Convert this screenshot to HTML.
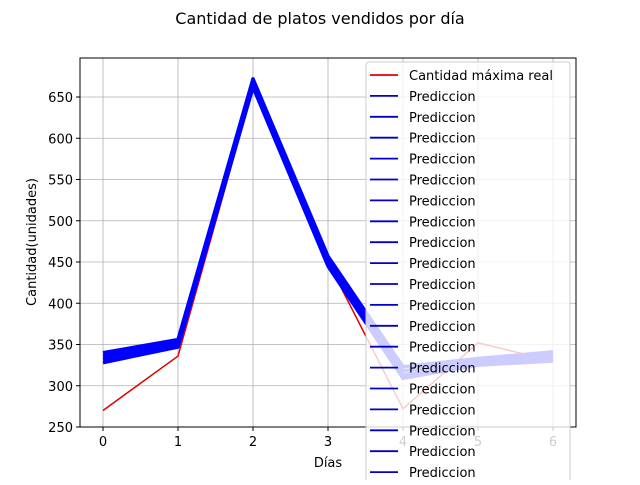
<!DOCTYPE html>
<html><head><meta charset="utf-8"><style>
body{margin:0;background:#fff}
svg text{font-family:"DejaVu Sans","Liberation Sans",sans-serif;fill:#000}
</style></head><body>
<svg id="c" width="640" height="480" xmlns="http://www.w3.org/2000/svg">
<text x="320" y="24" font-size="16" text-anchor="middle">Cantidad de platos vendidos por día</text>
<g id="grid"></g><g id="series"></g>
<rect x="80" y="58" width="496" height="369" fill="none" stroke="#000" stroke-width="1"/>
<g id="axes"></g>
<text x="328" y="467" font-size="13" text-anchor="middle">Días</text>
<text transform="translate(36,242) rotate(-90)" font-size="13" text-anchor="middle">Cantidad(unidades)</text>
<g id="legend"></g>
</svg>
<script>
const days=[0,1,2,3,4,5,6];
const yTicks=[250,300,350,400,450,500,550,600,650];
const real=[270,336,660,450,272,352,330];
const pred1=[328,347,662,445,309,325,330];
const pred2=[332,349,665,448,313,327,333];
const pred3=[336,352,668,452,318,330,337];
const pred4=[340,356,672,457,323,333,341];
const legendLabels=["Cantidad máxima real"].concat(Array(19).fill("Prediccion"));
const NS="http://www.w3.org/2000/svg";
const X=d=>103+d*75, Y=v=>427-(v-250)*0.825;
function mk(t,a,p){const e=document.createElementNS(NS,t);for(const k in a)e.setAttribute(k,a[k]);p.appendChild(e);return e;}
const grid=document.getElementById('grid'),axes=document.getElementById('axes'),ser=document.getElementById('series'),leg=document.getElementById('legend');
days.forEach(d=>{
 const l=mk('line',{x1:X(d),x2:X(d),y1:58,y2:427,stroke:'#b0b0b0','stroke-width':0.8},grid);
 
 
 mk('line',{x1:X(d),x2:X(d),y1:427,y2:431,stroke:'#000'},axes);
 const t=mk('text',{x:X(d),y:446,'font-size':13,'text-anchor':'middle'},axes);t.textContent=d;
 
 
});
yTicks.forEach(v=>{
 const l=mk('line',{x1:80,x2:576,y1:Y(v),y2:Y(v),stroke:'#b0b0b0','stroke-width':0.8},grid);
 
 
 mk('line',{x1:76,x2:80,y1:Y(v),y2:Y(v),stroke:'#000'},axes);
 const t=mk('text',{x:73,y:Y(v)+5,'font-size':13,'text-anchor':'end'},axes);t.textContent=v;
 
 
});
const pts=a=>a.map((v,i)=>X(days[i])+','+Y(v)).join(' ');
const r=mk('polyline',{points:pts(real),fill:'none',stroke:'#e00000','stroke-width':1.5},ser);


[pred1,pred2,pred3,pred4].forEach(p=>{
 const l=mk('polyline',{points:pts(p),fill:'none',stroke:'#0000ff','stroke-width':3.5,'stroke-linejoin':'round'},ser);
 
 
});
const box=mk('rect',{x:366,y:62,width:204,height:440,rx:3,fill:'#fff','fill-opacity':0.8,stroke:'#ccc'},leg);


legendLabels.forEach((lab,i)=>{
 const y=75+i*20.9;
 const g=mk('g',{},leg);
 
 
 mk('line',{x1:370,x2:398,y1:y,y2:y,stroke:i===0?'#e00000':'#0000cc','stroke-width':1.8},g);
 const t=mk('text',{x:409,y:y+5,'font-size':13},g);t.textContent=lab;
});
</script>
</body></html>
